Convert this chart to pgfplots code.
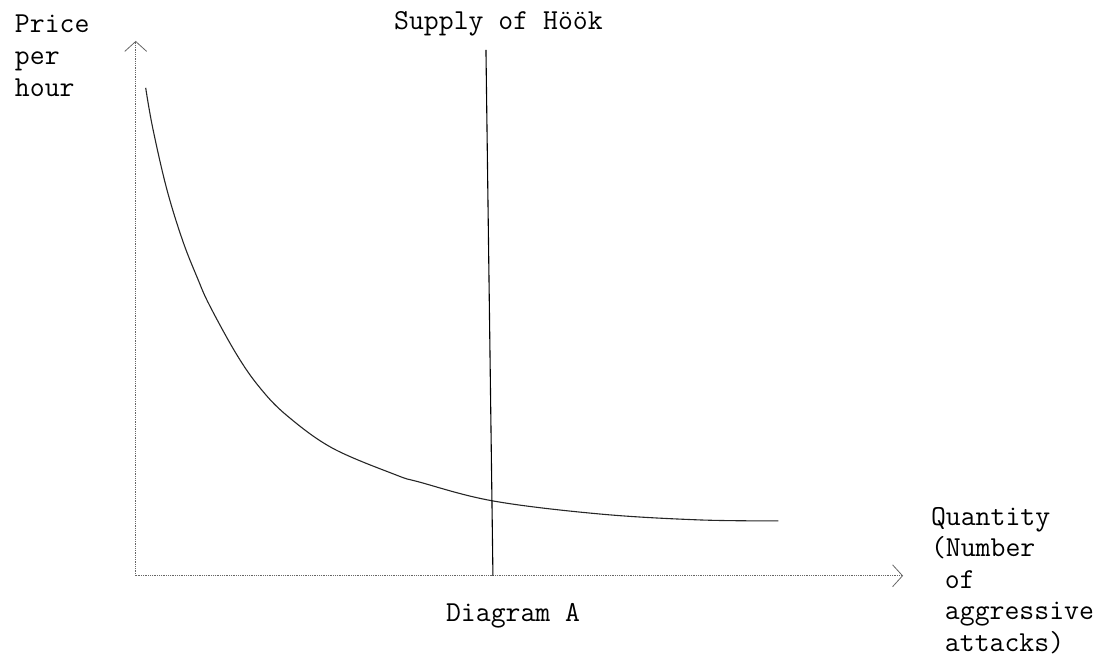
\documentclass[border=0pt]{standalone}
\usepackage{fontspec}
\usepackage{pgfplots}
\pgfplotsset{compat=1.18}
\usetikzlibrary{arrows.meta}
\begin{document}
\begin{tikzpicture}[x=1pt,y=1pt,
  lbl/.style={inner sep=0pt, outer sep=0pt, anchor=base west, font=\ttfamily\fontsize{29}{32}\selectfont}]
\begin{axis}[
  scale only axis,
  width=769pt, height=536pt,
  xmin=0, xmax=769, ymin=0, ymax=536,
  axis lines=left,
  axis line style={densely dotted, black!60, line width=0.8pt,
    -{Straight Barb[length=10pt,width=22pt,line width=0.8pt]}},
  xtick=\empty, ytick=\empty,
  clip=false,
]
% invisible frame giving the picture its size
\path (axis cs:-136,-90) rectangle (axis cs:958,577);
% demand curve
\addplot[black!85, line width=1.1pt, smooth, tension=0.6] coordinates {
  (10,489) (17,449) (31,388) (47,336) (62,298) (74,271) (101,222)
  (124,189) (151,161) (197,128) (261,101) (284,94) (358,75)
  (464,62) (564,56) (644,55)
};
% supply of Hook (vertical)
\addplot[black, line width=1.1pt] coordinates {(351,527) (358,0)};
% labels
\node[lbl] at (axis cs:-121,544) {Price};
\node[lbl] at (axis cs:-121,512) {per};
\node[lbl] at (axis cs:-121,480) {hour};
\node[lbl] at (axis cs:259,547) {Supply of Höök};
\node[lbl] at (axis cs:311,-46) {Diagram A};
\node[lbl] at (axis cs:797,50) {Quantity};
\node[lbl] at (axis cs:797,19) {(Number};
\node[lbl] at (axis cs:811,-13) {of};
\node[lbl] at (axis cs:811,-44) {aggressive};
\node[lbl] at (axis cs:811,-76) {attacks)};
\end{axis}
\end{tikzpicture}
\end{document}
